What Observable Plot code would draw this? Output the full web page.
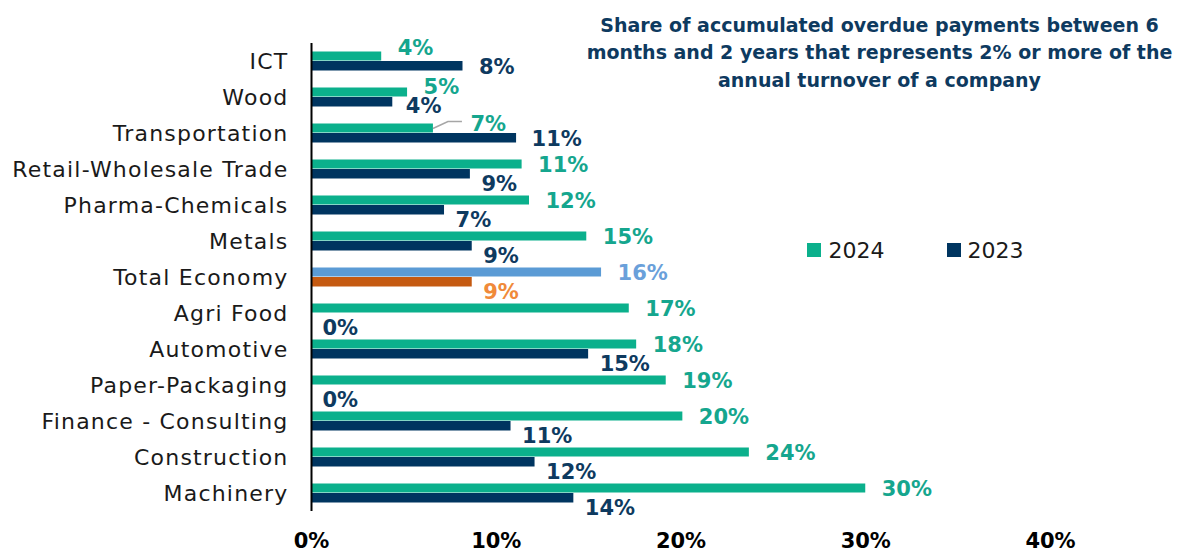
<!DOCTYPE html>
<html><head><meta charset="utf-8">
<script src="https://cdn.jsdelivr.net/npm/d3@7"></script>
<script src="https://cdn.jsdelivr.net/npm/@observablehq/plot@0.6"></script>
<style>html,body{margin:0;padding:0;background:#fff}</style>
</head><body><div id="chart"></div>
<script>
// ---- data ----
const categories = ["ICT","Wood","Transportation","Retail-Wholesale Trade","Pharma-Chemicals","Metals","Total Economy","Agri Food","Automotive","Paper-Packaging","Finance - Consulting","Construction","Machinery"];
const values2024 = [3.8,5.2,6.6,11.4,11.8,14.9,15.7,17.2,17.6,19.2,20.1,23.7,30.0];
const values2023 = [8.2,4.4,11.1,8.6,7.2,8.7,8.7,0,15.0,0,10.8,12.1,14.2];
const xTicks = [0,10,20,30,40];
const seriesNames = ["2024","2023"];
const titleText = "Share of accumulated overdue payments between 6\nmonths and 2 years that represents 2% or more of the\nannual turnover of a company";
const highlight = "Total Economy";

// ---- styles ----
const C = {
  bar24: "#0bb08c", lab24: "#15a68e",
  bar23: "#003560", lab23: "#0e3a5f",
  barT24: "#5b9bd5", labT24: "#6aa0da",
  barT23: "#c55a11", labT23: "#f08a3a",
  title: "#0e3a5f", text: "#1a1a1a"
};
// label nudges (px) relative to default placement
const nudge24 = {"ICT":[0,-9], "Wood":[0,-6], "Transportation":[21,-5]};
const nudge23 = {"ICT":[5,-9], "Wood":[2,-6], "Transportation":[4,-9]};

const rows = categories.map((c,i)=>({category:c, v24:values2024[i], v23:values2023[i]}));
const fmt = v => Math.round(v) + "%";

const labelMarks = [];
rows.forEach(r => {
  const hi = r.category === highlight;
  const [ax, ay] = nudge24[r.category] || [0,0];
  labelMarks.push(Plot.text([r], {x:"v24", y:"category", text:d=>fmt(d.v24), textAnchor:"start",
    dx:16+ax, dy:-4.5+ay, fill: hi?C.labT24:C.lab24, fontSize:21, fontWeight:"bold"}));
  const [bx, by] = nudge23[r.category] || [0,0];
  labelMarks.push(Plot.text([r], {x:"v23", y:"category", text:d=>fmt(d.v23), textAnchor:"start",
    dx:11+bx, dy:15+by, fill: hi?C.labT23:C.lab23, fontSize:21, fontWeight:"bold"}));
});

// leader line for the moved Transportation 2024 label
const leader = (index, scales) => {
  const r = rows.find(d=>d.category==="Transportation");
  const bw = scales.y.bandwidth ? scales.y.bandwidth() : 36;
  const x0 = scales.x(r.v24), yc = scales.y(r.category) + bw/2 - 4.5;
  const p = d3.path();
  p.moveTo(x0, yc); p.lineTo(x0+15, yc-7); p.lineTo(x0+29, yc-7);
  const path = document.createElementNS("http://www.w3.org/2000/svg","path");
  path.setAttribute("d", p.toString());
  path.setAttribute("fill","none"); path.setAttribute("stroke","#a6a6a6"); path.setAttribute("stroke-width","1.5");
  return path;
};

// legend squares
const legendSquares = () => {
  const g = document.createElementNS("http://www.w3.org/2000/svg","g");
  [[807, C.bar24],[947, C.bar23]].forEach(([x,f])=>{
    const rc = document.createElementNS("http://www.w3.org/2000/svg","rect");
    rc.setAttribute("x", x); rc.setAttribute("y", 243); rc.setAttribute("width", 14); rc.setAttribute("height", 14);
    rc.setAttribute("fill", f); g.appendChild(rc);
  });
  return g;
};

const chart = Plot.plot({
  width: 1186, height: 552,
  marginLeft: 311, marginRight: 136, marginTop: 43, marginBottom: 41,
  style: {fontFamily: "DejaVu Sans", color: C.text, background: "#fff"},
  x: {domain: [0,40]},
  y: {domain: categories, padding: 0},
  color: {type: "identity"},
  marks: [
    Plot.barX(rows, {x:"v24", y:"category", fill: d => d.category===highlight ? C.barT24 : C.bar24, insetTop: 8.5, insetBottom: 18.5}),
    Plot.barX(rows, {x:"v23", y:"category", fill: d => d.category===highlight ? C.barT23 : C.bar23, insetTop: 18, insetBottom: 8.5}),
    Plot.ruleX([0], {stroke:"#000", strokeWidth:2}),
    Plot.axisX({ticks: xTicks, tickFormat: d => d + "%", tickSize: 0, tickPadding: 22, fontSize: 21, fontWeight: "bold", fill: "#000", label: null}),
    Plot.axisY({tickSize: 0, tickPadding: 23, fontSize: 22, fill: C.text, label: null}),
    ...labelMarks,
    leader,
    Plot.text([titleText], {frameAnchor: "top-left", dx: 568, dy: 7, text: d=>d, textAnchor: "middle", lineAnchor: "middle", lineHeight: 1.45, fontSize: 19, fontWeight: "bold", fill: C.title}),
    legendSquares,
    Plot.text([seriesNames[0]], {frameAnchor: "top-left", dx: 517, dy: 207, text: d=>d, textAnchor: "start", lineAnchor: "middle", fontSize: 22, fill: C.text}),
    Plot.text([seriesNames[1]], {frameAnchor: "top-left", dx: 656, dy: 207, text: d=>d, textAnchor: "start", lineAnchor: "middle", fontSize: 22, fill: C.text})
  ]
});
// widen category labels to match the reference's wide typeface
d3.select(chart).selectAll('g[aria-label="y-axis tick label"] text').style("letter-spacing", "1.2px");
document.getElementById("chart").appendChild(chart);
</script>
</body></html>
